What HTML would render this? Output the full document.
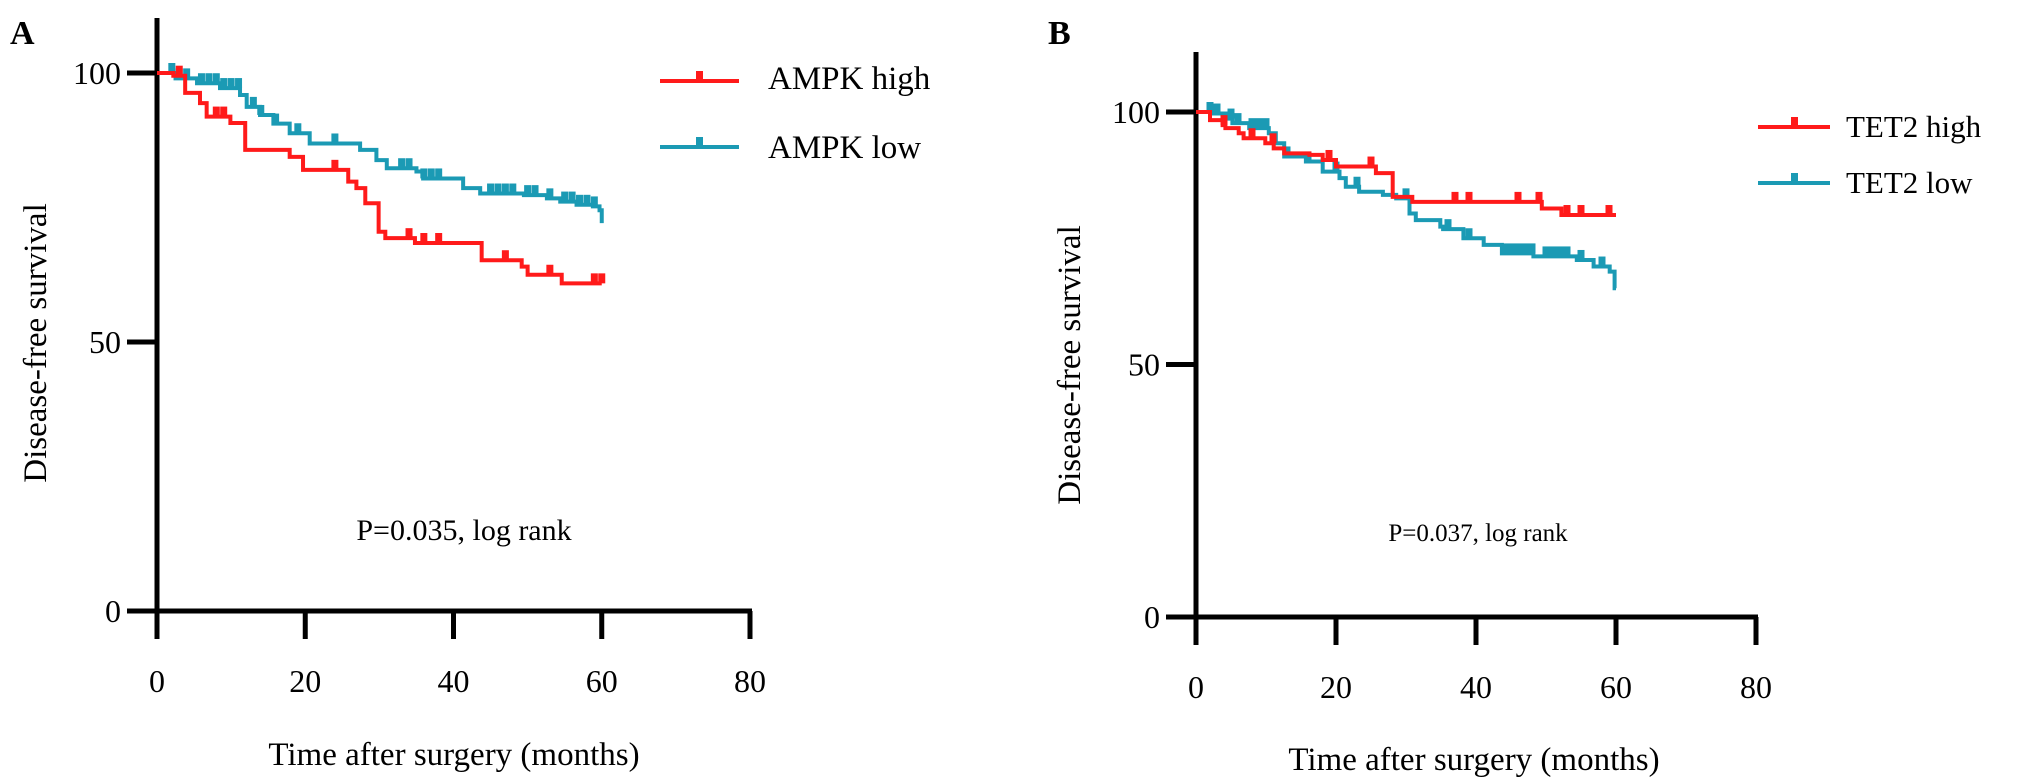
<!DOCTYPE html>
<html><head><meta charset="utf-8"><style>
html,body{margin:0;padding:0;background:#fff;}
svg{display:block;font-family:"Liberation Serif",serif;}
</style></head><body>
<svg id="chart" width="2031" height="784" viewBox="0 0 2031 784"></svg>
<script>
// Panel A data: [month, survival%]
const aHighMonths = [0,2.2,3.8,5.8,6.7,9.9,11.9,17.9,19.7,25.8,26.9,28.1,29.9,30.8,34.8,43.8,49.2,50,54.6,60];
const aHighValues = [100,99.5,96.3,94.4,91.9,90.7,85.7,84.4,82,79.8,78.6,75.8,70.5,69.3,68.4,65.2,64,62.5,60.9,60.9];
const aLowMonths = [0,2.5,5.4,8.5,11.2,12.1,13.9,15.7,17.9,20.6,27.4,29.6,31,35,35.9,41.3,43.6,49.5,52.6,54.4,56.6,58.8,59.7,60];
const aLowValues = [100,99,98.1,97.2,95.9,93.7,92.2,90.6,88.8,86.9,85.7,83.8,82.3,81.7,80.4,78.6,77.6,77.3,76.7,76.1,75.5,75.2,74.5,72.1];
const aHighCensor = [3,8,9,24,34,36,38,47,53,59,60];
const aLowCensor = [2,3,4,6,7,8,9,10,11,13,14,16,19,24,33,34,36,37,38,45,46,47,48,50,51,53,55,56,57,58,59];
// Panel B data
const bHighMonths = [0,2,3.8,4.2,6.1,6.8,9.9,11.1,12.6,16.2,18.1,20,25.7,28.1,30.9,49.4,52.2,60];
const bHighValues = [100,98.4,97.4,96.8,95.8,94.8,93.8,92.8,91.8,91.5,90.5,89.2,87.9,83.2,82.2,80.9,79.6,79.6];
const bLowMonths = [0,2.3,4.7,5.2,7.6,10.4,11.4,12.6,15.7,18.1,20.5,21.4,23.3,26.7,28.6,30.5,31.4,34.9,35.3,38.2,41.1,43.7,48.2,54.4,56.8,59.1,59.8,60];
const bLowValues = [100,99.7,98.7,97.8,96.8,95.8,93.8,91.2,90.2,88.2,86.9,85.2,84.2,83.6,82.9,79.9,78.6,77.3,76.8,75,73.7,72,71.4,70.7,69.4,68.4,65.1,65.1];
const bHighCensor = [4,8,11,19,25,37,39,46,49,53,55,59];
const bLowCensor = [2,3,5,6,8,9,10,13,16,20,23,30,36,39,44,45,46,47,48,50,51,52,53,55,58];
const xTicks = [0,20,40,60,80];
const yTicks = [0,50,100];

const svg = document.getElementById('chart');
const NS = 'http://www.w3.org/2000/svg';
function mk(tag, attrs, parent){const e=document.createElementNS(NS,tag);for(const k in attrs)e.setAttribute(k,attrs[k]);(parent||svg).appendChild(e);return e;}

function panel(cfg){
  const g = mk('g',{});
  
  
  const X = m => cfg.x0 + (m/80)*(cfg.x1-cfg.x0);
  const Y = v => cfg.y0 - (v/100)*(cfg.y0-cfg.y100);
  const ya = mk('line',{x1:cfg.x0,y1:cfg.yTop,x2:cfg.x0,y2:cfg.y0+28,stroke:'#000','stroke-width':5},g);
  
  
  const xa = mk('line',{x1:cfg.x0-30,y1:cfg.y0,x2:cfg.x1+2,y2:cfg.y0,stroke:'#000','stroke-width':5},g);
  
  
  xTicks.forEach(t=>{
    mk('line',{x1:X(t),y1:cfg.y0,x2:X(t),y2:cfg.y0+28,stroke:'#000','stroke-width':5},g);
    const tx = mk('text',{x:X(t),y:cfg.y0+81,'font-size':32,'text-anchor':'middle'},g);
    tx.textContent = t;
    
    
  });
  yTicks.forEach(t=>{
    mk('line',{x1:cfg.x0-30,y1:Y(t),x2:cfg.x0,y2:Y(t),stroke:'#000','stroke-width':5},g);
    const ty = mk('text',{x:cfg.x0-36,y:Y(t)+11,'font-size':32,'text-anchor':'end'},g);
    ty.textContent = t;
    
    
  });
  cfg.series.forEach(s=>{
    let d = 'M'+X(s.m[0])+','+Y(s.v[0]);
    for(let i=1;i<s.m.length;i++){ d += ' H'+X(s.m[i])+' V'+Y(s.v[i]); }
    const p = mk('path',{d:d,fill:'none',stroke:s.color,'stroke-width':4},g);
    
    
    s.c.forEach(cm=>{
      let val = s.v[0];
      for(let i=0;i<s.m.length;i++){ if(s.m[i]<=cm) val = s.v[i]; }
      const r = mk('rect',{x:X(cm)-3.5,y:Y(val)-10,width:7,height:10,fill:s.color},g);
      
      
    });
  });
}

panel({id:'a',x0:157,x1:750,y0:611,y100:73,yTop:18,series:[
  {name:'ampk-low',m:aLowMonths,v:aLowValues,c:aLowCensor,color:'#1b9ab4'},
  {name:'ampk-high',m:aHighMonths,v:aHighValues,c:aHighCensor,color:'#ff1a1a'}]});
panel({id:'b',x0:1196,x1:1756,y0:617,y100:112,yTop:52,series:[
  {name:'tet2-low',m:bLowMonths,v:bLowValues,c:bLowCensor,color:'#1b9ab4'},
  {name:'tet2-high',m:bHighMonths,v:bHighValues,c:bHighCensor,color:'#ff1a1a'}]});
</script>
<svg width="2031" height="784" style="position:absolute;left:0;top:0;font-family:'Liberation Serif',serif">
  <text x="10" y="44" font-size="34" font-weight="bold">A</text>
  <text x="1048" y="44" font-size="34" font-weight="bold">B</text>
  <text transform="translate(46,343) rotate(-90)" font-size="33" text-anchor="middle">Disease-free survival</text>
  <text transform="translate(1080,365) rotate(-90)" font-size="33" text-anchor="middle">Disease-free survival</text>
  <text x="454" y="765" font-size="33" text-anchor="middle">Time after surgery (months)</text>
  <text x="1474" y="770" font-size="33" text-anchor="middle">Time after surgery (months)</text>
  <text x="464" y="540" font-size="30" text-anchor="middle">P=0.035, log rank</text>
  <text x="1478" y="541" font-size="25" text-anchor="middle">P=0.037, log rank</text>
  <g>
    <line x1="660" y1="81" x2="739" y2="81" stroke="#ff1a1a" stroke-width="4"/><rect x="696" y="71" width="7" height="10" fill="#ff1a1a"/>
    <text x="768" y="89" font-size="33">AMPK high</text>
    <line x1="660" y1="147" x2="739" y2="147" stroke="#1b9ab4" stroke-width="4"/><rect x="696" y="137" width="7" height="10" fill="#1b9ab4"/>
    <text x="768" y="158" font-size="33">AMPK low</text>
  </g>
  <g>
    <line x1="1758" y1="127" x2="1830" y2="127" stroke="#ff1a1a" stroke-width="4"/><rect x="1791" y="117" width="7" height="10" fill="#ff1a1a"/>
    <text x="1846" y="137" font-size="31">TET2 high</text>
    <line x1="1758" y1="183" x2="1830" y2="183" stroke="#1b9ab4" stroke-width="4"/><rect x="1791" y="173" width="7" height="10" fill="#1b9ab4"/>
    <text x="1846" y="193" font-size="31">TET2 low</text>
  </g>
</svg>
</body></html>
